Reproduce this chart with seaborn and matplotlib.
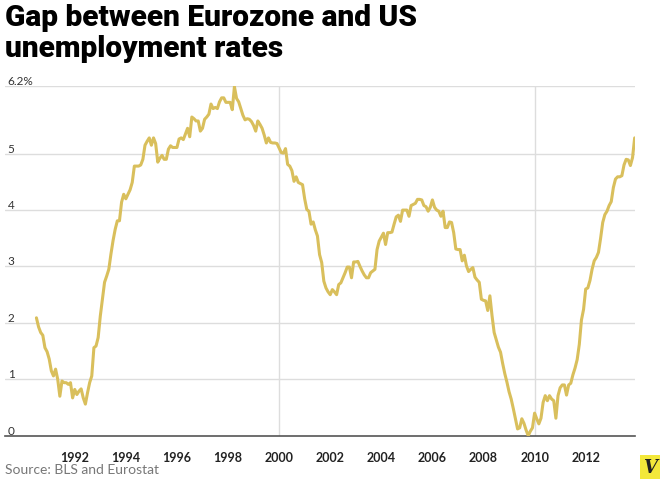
import pandas as pd
import matplotlib
matplotlib.use("Agg")
import matplotlib.pyplot as plt
import seaborn as sns

# gap (Eurozone minus US unemployment rate, pct points), monthly from Jul 1990
START_YEAR, START_MONTH = 1990, 7
gap_1990 = [2.09, 1.93, 1.83, 1.78, 1.56, 1.49]
gap_1991 = [1.36, 1.15, 1.06, 1.18, 1.00, 0.70, 0.97, 0.94, 0.94, 0.91, 0.94, 0.67]
gap_1992 = [0.82, 0.73, 0.79, 0.83, 0.67, 0.56, 0.76, 0.94, 1.06, 1.56, 1.59, 1.74]
gap_1993 = [2.12, 2.42, 2.72, 2.83, 2.95, 3.22, 3.46, 3.66, 3.81, 3.81, 4.14, 4.28]
gap_1994 = [4.20, 4.28, 4.36, 4.49, 4.78, 4.78, 4.78, 4.80, 4.90, 5.15, 5.22, 5.28]
gap_1995 = [5.15, 5.28, 5.18, 4.85, 4.92, 4.97, 4.90, 4.90, 5.08, 5.14, 5.11, 5.11]
gap_1996 = [5.11, 5.26, 5.28, 5.25, 5.35, 5.45, 5.30, 5.65, 5.62, 5.58, 5.58, 5.40]
gap_1997 = [5.45, 5.61, 5.65, 5.70, 5.88, 5.80, 5.82, 5.80, 5.92, 5.99, 5.99, 5.91]
gap_1998 = [5.91, 5.91, 5.78, 6.19, 5.98, 5.92, 5.80, 5.68, 5.60, 5.62, 5.61, 5.57]
gap_1999 = [5.50, 5.40, 5.58, 5.52, 5.45, 5.33, 5.19, 5.28, 5.20, 5.19, 5.19, 5.18]
gap_2000 = [5.10, 5.02, 5.01, 5.09, 4.81, 4.78, 4.70, 4.51, 4.59, 4.49, 4.47, 4.45]
gap_2001 = [4.20, 4.01, 3.98, 3.75, 3.79, 3.65, 3.54, 3.21, 3.07, 2.74, 2.62, 2.55]
gap_2002 = [2.50, 2.59, 2.55, 2.50, 2.68, 2.71, 2.80, 2.89, 2.99, 2.99, 2.80, 3.08]
gap_2003 = [3.08, 3.09, 3.00, 2.92, 2.85, 2.80, 2.80, 2.89, 2.92, 2.95, 3.30, 3.45]
gap_2004 = [3.52, 3.59, 3.39, 3.60, 3.60, 3.61, 3.75, 3.88, 3.91, 3.80, 4.00, 4.00]
gap_2005 = [4.00, 3.89, 4.08, 4.10, 4.12, 4.19, 4.19, 4.18, 4.08, 4.06, 3.98, 4.05]
gap_2006 = [4.18, 4.05, 4.00, 3.98, 3.89, 3.98, 3.69, 3.69, 3.79, 3.78, 3.60, 3.31]
gap_2007 = [3.30, 3.30, 3.10, 3.20, 3.01, 2.91, 2.95, 2.98, 2.81, 2.76, 2.72, 2.42]
gap_2008 = [2.40, 2.39, 2.22, 2.48, 2.13, 1.83, 1.70, 1.57, 1.48, 1.28, 1.10, 0.95]
gap_2009 = [0.78, 0.65, 0.48, 0.30, 0.12, 0.14, 0.30, 0.22, 0.10, 0.00, 0.08, 0.14]
gap_2010 = [0.40, 0.30, 0.21, 0.31, 0.59, 0.71, 0.62, 0.71, 0.65, 0.62, 0.31, 0.71]
gap_2011 = [0.85, 0.90, 0.90, 0.72, 0.90, 0.93, 1.08, 1.20, 1.35, 1.62, 2.05, 2.24]
gap_2012 = [2.60, 2.62, 2.75, 2.95, 3.10, 3.16, 3.25, 3.50, 3.78, 3.92, 3.98, 4.08]
gap_2013 = [4.15, 4.40, 4.55, 4.59, 4.59, 4.61, 4.80, 4.90, 4.89, 4.79, 4.93, 5.28]

year_ticks = list(range(1992, 2013, 2))
y_ticks = [0, 1, 2, 3, 4, 5, 6.2]
y_labels = ["0", "1", "2", "3", "4", "5", "6.2%"]

gap = (gap_1990 + gap_1991 + gap_1992 + gap_1993 + gap_1994 + gap_1995
       + gap_1996 + gap_1997 + gap_1998 + gap_1999 + gap_2000 + gap_2001
       + gap_2002 + gap_2003 + gap_2004 + gap_2005 + gap_2006 + gap_2007
       + gap_2008 + gap_2009 + gap_2010 + gap_2011 + gap_2012 + gap_2013)
dates = pd.date_range(f"{START_YEAR}-{START_MONTH:02d}-01", periods=len(gap), freq="MS")
df = pd.DataFrame({"year": dates.year + (dates.month - 1) / 12, "gap": gap})

sns.set_style("white")
plt.rcParams["font.family"] = ["Lato", "DejaVu Sans"]

W, H = 660, 481
fig = plt.figure(figsize=(W / 100, H / 100), dpi=100)
ax = fig.add_axes([5 / W, 1 - 436.7 / H, 630 / W, (436.7 - 87) / H])

# light grid, only 2000 and 2010 get vertical lines
for v in y_ticks[1:]:
    ax.axhline(v, color="#dddddd", lw=1, zorder=0)
for yr in [2000, 2010]:
    ax.axvline(yr, color="#dddddd", lw=1, zorder=0)

sns.lineplot(data=df, x="year", y="gap", color="#d9bf5c", lw=2.2, ax=ax, zorder=3)

ax.set_xlim(1989.27, 2013.93)
ax.set_ylim(0, 6.2)
ax.set_xlabel("")
ax.set_ylabel("")
for s in ["left", "right", "top"]:
    ax.spines[s].set_visible(False)
ax.spines["bottom"].set_color("#555555")
ax.spines["bottom"].set_linewidth(1.2)

ax.set_xticks(year_ticks)
ax.set_xticklabels([str(y) for y in year_ticks], fontsize=9, fontweight="bold", color="#222222")
ax.tick_params(axis="x", length=0, pad=11)

ax.set_yticks(y_ticks)
ax.set_yticklabels(y_labels, fontsize=8.5, color="#333333")
ax.tick_params(axis="y", length=0, pad=-2)
for lab in ax.get_yticklabels():
    lab.set_horizontalalignment("left")
    lab.set_verticalalignment("bottom")

# title
title_font = ["Roboto", "DejaVu Sans"]
fig.text(5 / W, 1 - 26 / H, "Gap between Eurozone and US", fontsize=21.5,
         fontweight="black", color="black", va="baseline", family=title_font)
fig.text(5 / W, 1 - 57 / H, "unemployment rates", fontsize=21.5,
         fontweight="black", color="black", va="baseline", family=title_font)

# source
fig.text(5 / W, 1 - 474 / H, "Source: BLS and Eurostat", fontsize=10, color="#777777", va="baseline")

# vox logo
fig.text(650 / W, 1 - 468 / H, "V", fontsize=13, fontweight="bold", fontstyle="italic",
         color="#222222", ha="center", va="center", family=["DejaVu Serif"],
         bbox=dict(boxstyle="square,pad=0.15", fc="#f3e83a", ec="none"))

fig.savefig("out.png", dpi=100)
